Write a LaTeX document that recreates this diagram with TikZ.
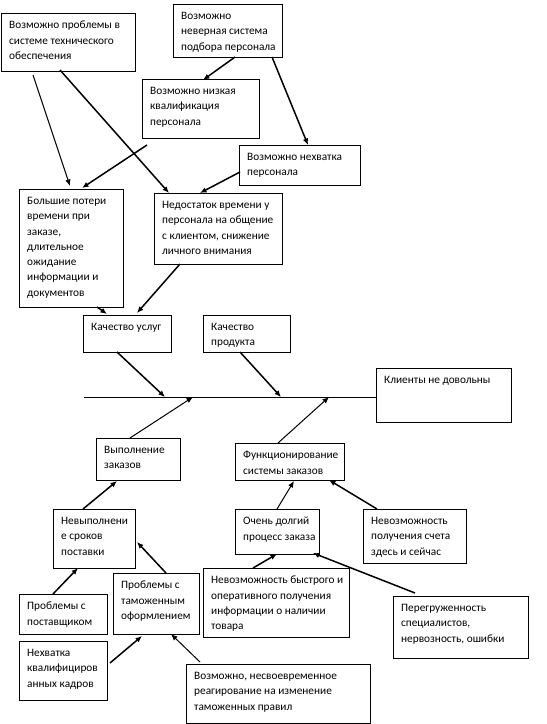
\documentclass[tikz,border=0pt]{standalone}
\usepackage{fontspec}
\setmainfont{Carlito}
\usetikzlibrary{calc,arrows.meta}
\tikzset{
  box/.style={draw, line width=0.8pt, inner sep=0pt, outer sep=0pt, anchor=north west},
  lbl/.style={anchor=north west, align=left, inner sep=0pt, xshift=8pt, yshift=-8pt,
    font=\fontsize{11.3}{15.3}\selectfont},
  arr/.style={line width=1.5pt, -{Latex[length=6.5pt,width=5.5pt]}},
  tarr/.style={line width=1pt, -{Latex[length=6.5pt,width=5.5pt]}},
  spine/.style={line width=0.9pt}
}
\newcommand{\bx}[6]{% name, x1, y1, x2, y2, text
  \pgfmathsetmacro{\bw}{#4-#2}\pgfmathsetmacro{\bh}{#5-#3}%
  \node[box, minimum width=\bw pt, minimum height=\bh pt,
    label={[lbl]north west:{#6}}] (#1) at (#2,#3) {};}
\begin{document}
\begin{tikzpicture}[x=1pt,y=-1pt]
\useasboundingbox (0,0) rectangle (547,724);
\bx{A}{1}{13}{135}{71}{Возможно проблемы в\\системе технического\\обеспечения}
\bx{B}{173}{4}{282}{57}{Возможно\\неверная система\\подбора персонала}
\bx{C}{142}{79}{259}{138}{Возможно низкая\\квалификация\\персонала}
\bx{D}{239}{145}{360}{185}{Возможно нехватка\\персонала}
\bx{E}{19}{189}{123}{307}{Большие потери\\времени при\\заказе,\\длительное\\ожидание\\информации и\\документов}
\bx{F}{154}{193}{282}{264}{Недостаток времени у\\персонала на общение\\с клиентом, снижение\\личного внимания}
\bx{G}{83}{315}{171}{352}{Качество услуг}
\bx{H}{203}{315}{290}{352}{Качество\\продукта}
\bx{I}{376}{368}{511}{422}{Клиенты не довольны}
\bx{J}{96}{438}{180}{480}{Выполнение\\заказов}
\bx{K}{53}{509}{135}{568}{Невыполнени\\е сроков\\поставки}
\bx{L}{19}{594}{107}{634}{Проблемы с\\поставщиком}
\bx{M}{113}{573}{199}{634}{Проблемы с\\таможенным\\оформлением}
\bx{N}{19}{641}{107}{700}{Нехватка\\квалифициров\\анных кадров}
\bx{O}{186}{664}{370}{723}{Возможно, несвоевременное\\реагирование на изменение\\таможенных правил}
\bx{P}{235}{443}{344}{480}{Функционирование\\системы заказов}
\bx{Q}{235}{509}{319}{554}{Очень долгий\\процесс заказа}
\bx{R}{363}{509}{466}{563}{Невозможность\\получения счета\\здесь и сейчас}
\bx{S}{203}{568}{349}{637}{Невозможность быстрого и\\оперативного получения\\информации о наличии\\товара}
\bx{T}{393}{596}{528}{658}{Перегруженность\\специалистов,\\нервозность, ошибки}
% spine
\coordinate (sp) at (84,397);
\draw[spine] (sp) -- (sp -| I.west);
\coordinate (s1) at (165,397);
\coordinate (s2) at (281,397);
\coordinate (s3) at (193,397);
\coordinate (s4) at (329,397);
% connectors
\draw[tarr] ($(A.north west)+(32,62)$) -- ($(E.north west)+(51,-3)$);
\draw[arr] ($(A.north west)+(59,57)$) -- ($(F.north west)+(15,0)$);
\draw[arr] ($(B.north west)+(62,53)$) -- ($(C.north west)+(61,1)$);
\draw[arr] ($(B.north west)+(99,53)$) -- ($(D.north west)+(69,0)$);
\draw[arr] ($(C.north west)+(5,66)$) -- ($(E.north west)+(63,-1)$);
\draw[arr] ($(D.north west)+(1,27)$) -- ($(F.north west)+(46,0)$);
\draw[arr] ($(E.north west)+(78,118)$) -- ($(G.north west)+(24,-1)$);
\draw[arr] ($(F.north west)+(26,71)$) -- ($(G.north west)+(54,-2)$);
\draw[arr] ($(G.north west)+(34,37)$) -- (s1);
\draw[arr] ($(H.north west)+(37,37)$) -- (s2);
\draw[tarr] ($(J.north west)+(34,0)$) -- (s3);
\draw[tarr] ($(P.north west)+(43,0)$) -- (s4);
\draw[arr] ($(K.north west)+(30,0)$) -- ($(J.north west)+(21,43)$);
\draw[arr] ($(L.north west)+(34,0)$) -- ($(K.north west)+(25,59)$);
\draw[arr] ($(M.north west)+(53,0)$) -- ($(K.north west)+(84,33)$);
\draw[arr] ($(N.north west)+(91,22)$) -- ($(M.north west)+(29,63)$);
\draw[tarr] ($(O.north west)+(14,-2)$) -- ($(M.north west)+(58,61)$);
\draw[tarr] ($(Q.north west)+(42,0)$) -- ($(P.north west)+(59,38)$);
\draw[arr] ($(R.north west)+(14,0)$) -- ($(P.north west)+(94,37)$);
\draw[arr] ($(S.north west)+(50,0)$) -- ($(Q.north west)+(42,45)$);
\draw[arr] ($(T.north west)+(22,-3)$) -- ($(Q.north west)+(78,44)$);
\end{tikzpicture}
\end{document}
